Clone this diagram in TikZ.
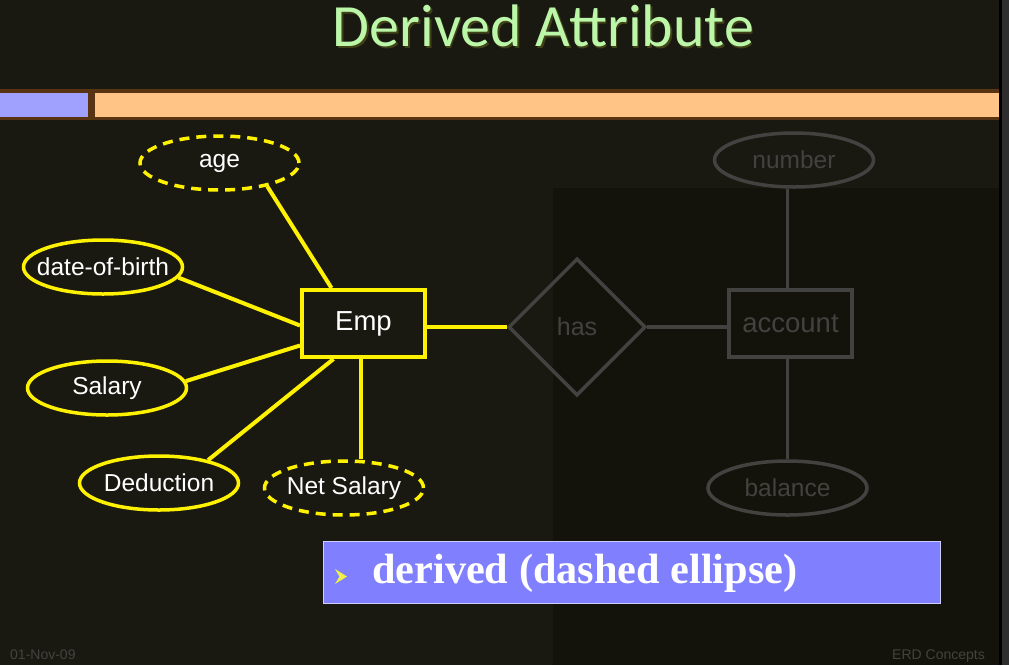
\documentclass[tikz,border=0pt]{standalone}
\usepackage{fontspec}
\setmainfont{Liberation Sans}
\newfontfamily\titlefont{Carlito}
\newfontfamily\notefont{Liberation Serif}
\usetikzlibrary{shapes.geometric}
\definecolor{slidebg}{RGB}{26,25,17}
\definecolor{slidedark}{RGB}{20,19,11}
\definecolor{barbrown}{RGB}{88,52,18}
\definecolor{barblue}{RGB}{160,160,255}
\definecolor{barpeach}{RGB}{255,196,134}
\definecolor{titlegreen}{RGB}{188,246,168}
\definecolor{titleglow}{RGB}{62,66,22}
\definecolor{fadegray}{RGB}{66,66,64}
\definecolor{notebox}{RGB}{128,128,255}
\definecolor{noteedge}{RGB}{205,205,255}
\definecolor{bulletyellow}{RGB}{240,240,70}
\tikzset{
attr/.style={ellipse, draw=yellow, line width=3.5pt, minimum width=159pt, minimum height=54pt, inner xsep=-12pt, inner ysep=0pt, text=white, font=\fontsize{24.5}{28}\selectfont}, % plain attribute
derived/.style={attr, dash pattern=on 10pt off 7pt}, % derived attribute, dashed
entity/.style={rectangle, draw=yellow, line width=4pt, minimum width=123pt, minimum height=67pt, inner sep=0pt, text=white, font=\fontsize{27.5}{32}\selectfont}, % entity set
faded/.style={draw=fadegray, text=fadegray, line width=3.5pt}, % the greyed-out part
link/.style={draw=yellow, line width=4pt}, % yellow connector
fadelink/.style={draw=fadegray, line width=3.5pt}, % grey connector
}
\begin{document}
\begin{tikzpicture}[x=1pt, y=-1pt]
            % slide background
            \fill[slidebg] (0,0) rectangle (999,665);
            \fill[slidedark] (553,188) rectangle (999,665);
            \fill[black] (999,0) rectangle (1002,665);
            \fill[black!82] (1002,0) rectangle (1009,665);
            \useasboundingbox (0,0) rectangle (1009,665);
            % title and bar
            \node[anchor=base, inner sep=0pt, text=titleglow, font=\titlefont\fontsize{60}{66}\selectfont] (titleshadow) at (545,48) {Derived Attribute};
            \node[anchor=base, inner sep=0pt, text=titlegreen, font=\titlefont\fontsize{60}{66}\selectfont] (title) at (543.5,46) {Derived Attribute};
            \fill[barbrown] (0,89) rectangle (999,120);
            \fill[barblue] (0,93) rectangle (88,117);
            \fill[barpeach] (95,93) rectangle (999,117);
            % attributes of Emp
            \node[derived] (age) at (219.5,163) {age};
            \node[attr] (dob) at (103,267) {date-of-birth};
            \node[attr] (salary) at (107,388) {Salary};
            \node[attr] (deduction) at (159,483) {Deduction};
            \node[derived] (netsalary) at (344,488) {Net Salary};
            \node[entity] (emp) at (363.5,323.5) {Emp};
            % greyed-out relationship
            \node[diamond, aspect=1, minimum width=137pt, minimum height=137pt, inner sep=0pt, faded, font=\fontsize{25}{28}\selectfont] (has) at (577,327) {has};
            \node[entity, faded] (account) at (790.5,323.5) {account};
            \node[attr, faded] (number) at (794,160) {number};
            \node[attr, faded] (balance) at (787.5,488) {balance};
            \draw[link]
                (age.-26) edge ([xshift=-32pt]emp.north)
                (dob.-8) edge ([yshift=-2pt]emp.west)
                (salary.5) edge ([yshift=-22pt]emp.west)
                (deduction.25) edge ([xshift=-30pt]emp.south)
                ([xshift=-3pt]emp.south) edge ([xshift=-3pt]emp.south |- netsalary.north)
                (has.west -| emp.east) edge (has.west)
                ;
            \draw[fadelink]
                (has.east) edge (has.east -| account.west)
                (number.south -| balance.north) edge (account.north -| balance.north)
                (account.south -| balance.north) edge (balance.north)
                ;
            % note box
            \node[draw=noteedge, line width=1pt, fill=notebox, minimum width=617pt, minimum height=62pt, inner sep=0pt] (note) at (631.5,572.5) {};
            \fill[bulletyellow] (335,569) -- (347,576.5) -- (335,584) -- (339.5,576.5) -- cycle;
            \node[anchor=base west, inner sep=0pt, text=white, font=\notefont\bfseries\fontsize{42.3}{47}\selectfont] (notetext) at (372,583) {derived (dashed ellipse)};
            % footer
            \node[anchor=base west, inner sep=0pt, text=fadegray, font=\fontsize{14}{16}\selectfont] (date) at (10,659) {01-Nov-09};
            \node[anchor=base east, inner sep=0pt, text=fadegray, font=\fontsize{14}{16}\selectfont] (footer) at (985,659) {ERD Concepts};
            \end{tikzpicture}
\end{document}
